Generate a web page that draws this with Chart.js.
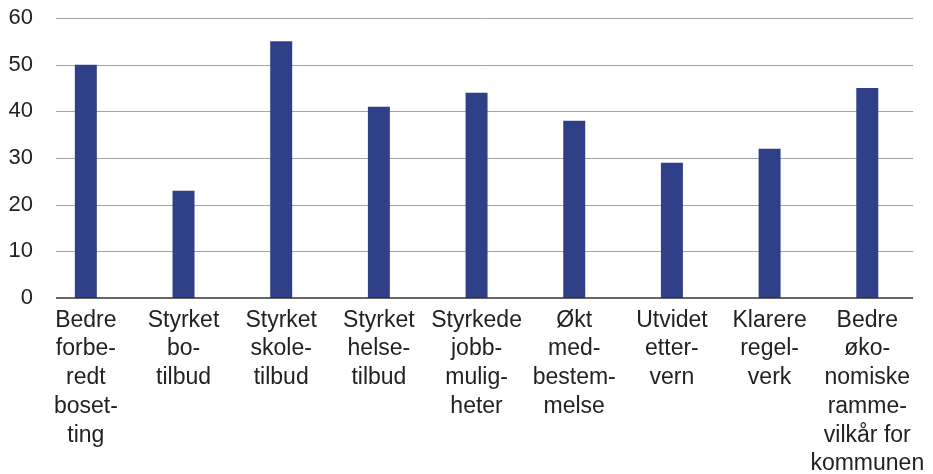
<!DOCTYPE html>
<html>
<head>
<meta charset="utf-8">
<script src="https://cdn.jsdelivr.net/npm/chart.js@4"></script>
<style>
  html, body { margin: 0; padding: 0; background: #fff; }
  #wrap { width: 933px; height: 474px; }
</style>
</head>
<body>
<div id="wrap"><canvas id="chart" width="933" height="474"></canvas></div>
<script>
// categories (already split into lines like the original)
const categories = [
  ['Bedre', 'forbe-', 'redt', 'boset-', 'ting'],
  ['Styrket', 'bo-', 'tilbud'],
  ['Styrket', 'skole-', 'tilbud'],
  ['Styrket', 'helse-', 'tilbud'],
  ['Styrkede', 'jobb-', 'mulig-', 'heter'],
  ['Økt', 'med-', 'bestem-', 'melse'],
  ['Utvidet', 'etter-', 'vern'],
  ['Klarere', 'regel-', 'verk'],
  ['Bedre', 'øko-', 'nomiske', 'ramme-', 'vilkår for', 'kommunen']
];
const values = [50, 23, 55, 41, 44, 38, 29, 32, 45];
const yTicks = [0, 10, 20, 30, 40, 50, 60];

// gridlines start a bit to the right of the category axis start
const gridPlugin = {
  id: 'grid',
  beforeDatasetsDraw(chart) {
    const { ctx, chartArea, scales } = chart;
    const y = scales.y;
    ctx.save();
    yTicks.forEach(v => {
      if (v === 0) return;
      const py = Math.round(y.getPixelForValue(v)) + 0.5;
      ctx.strokeStyle = '#a3a3a3';
      ctx.lineWidth = 1;
      ctx.beginPath();
      ctx.moveTo(56, py);
      ctx.lineTo(chartArea.right - 3, py);
      ctx.stroke();
    });
    ctx.restore();
  },
  afterDatasetsDraw(chart) {
    const { ctx, chartArea, scales } = chart;
    const py = scales.y.getPixelForValue(0);
    ctx.save();
    ctx.strokeStyle = '#333';
    ctx.lineWidth = 1.5;
    ctx.beginPath();
    ctx.moveTo(56, py);
    ctx.lineTo(chartArea.right - 3, py);
    ctx.stroke();
    ctx.restore();
  }
};

new Chart(document.getElementById('chart'), {
  type: 'bar',
  data: {
    labels: categories,
    datasets: [{
      data: values,
      backgroundColor: '#2f3f88',
      categoryPercentage: 1,
      barPercentage: 0.225
    }]
  },
  options: {
    responsive: false,
    animation: false,
    layout: { padding: { top: 18, right: 15, left: 0, bottom: 0 } },
    plugins: {
      legend: { display: false },
      tooltip: { enabled: false }
    },
    scales: {
      x: {
        grid: { display: false, drawTicks: false },
        border: { display: false },
        afterFit: (scale) => { scale.height = 176; },
        ticks: {
          autoSkip: false,
          maxRotation: 0,
          padding: 8,
          color: '#222',
          font: { family: 'Liberation Sans, Arial, sans-serif', size: 23, lineHeight: 1.25 }
        }
      },
      y: {
        min: 0,
        max: 60,
        grid: { display: false, drawTicks: false },
        border: { display: false },
        afterFit: (scale) => { scale.width = 37; },
        afterBuildTicks: (scale) => { scale.ticks = yTicks.map(v => ({ value: v })); },
        ticks: {
          padding: 4,
          color: '#222',
          font: { family: 'Liberation Sans, Arial, sans-serif', size: 22 }
        }
      }
    }
  },
  plugins: [gridPlugin]
});
</script>
</body>
</html>
